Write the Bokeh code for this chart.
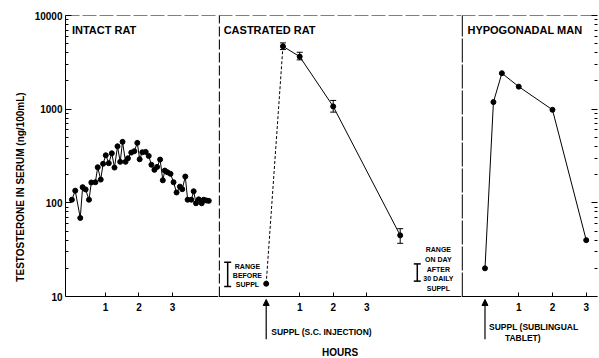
from bokeh.plotting import figure
from bokeh.models import (Range1d, FixedTicker, ColumnDataSource, Whisker, TeeHead,
                          Arrow, NormalHead, Label, Span, LogAxis)
from bokeh.layouts import row
from bokeh.embed import file_html
from bokeh.resources import INLINE

# ---------------- data ----------------
intact_hours = [0.00, 0.10, 0.25, 0.32, 0.41, 0.51, 0.58, 0.70, 0.77, 0.86,
                0.93, 1.01, 1.10, 1.19, 1.27, 1.36, 1.44, 1.51, 1.60, 1.67,
                1.77, 1.86, 1.95, 2.02, 2.10, 2.20, 2.29, 2.37, 2.46, 2.54,
                2.63, 2.71, 2.77, 2.85, 2.94, 3.03, 3.12, 3.22, 3.29, 3.38,
                3.45, 3.56, 3.63, 3.70, 3.78, 3.87, 3.93, 4.01, 4.08]
intact_values = [108, 135, 69, 147, 139, 108, 165, 166, 240, 177,
                 261, 322, 265, 338, 238, 402, 274, 448, 274, 299,
                 344, 356, 437, 292, 347, 350, 317, 255, 225, 242,
                 290, 174, 221, 212, 204, 166, 129, 149, 140, 191,
                 108, 108, 133, 99, 109, 99, 108, 106, 105]

castrated_hours = [0, 0.5, 1, 2, 4]
castrated_values = [13.7, 4690, 3640, 1070, 45]
castrated_err_hours = [0.5, 1, 2, 4]
castrated_lower = [4330, 3360, 930, 37]
castrated_upper = [5100, 4050, 1240, 53]

man_hours = [0, 0.25, 0.5, 1, 2, 3]
man_values = [20, 1190, 2420, 1740, 985, 40]

range_before = [12.8, 23.2]
range_after = [14.6, 22.3]

hour_ticks = [1, 2, 3]
y_ticks = [10, 100, 1000, 10000]
y_tick_labels = ["10", "100", "1000", "10000"]
panel_titles = ["INTACT RAT", "CASTRATED RAT", "HYPOGONADAL MAN"]

FONT = "Liberation Sans"
H = 358
Y_BOTTOM = 2.18          # frame extends below the x axis (drawn at y = 10)
yr = Range1d(Y_BOTTOM, 10000)
minor = [m * d for d in y_ticks[:-1] for m in range(2, 10)]


def style_yaxis(ax, labels=True):
    ax.ticker = FixedTicker(ticks=y_ticks, minor_ticks=minor)
    ax.bounds = (10, 10000)
    ax.major_tick_in = 6
    ax.major_tick_out = 0
    ax.minor_tick_in = 3
    ax.minor_tick_out = 0
    ax.major_tick_line_color = "black"
    ax.minor_tick_line_color = "black"
    if labels:
        ax.major_label_overrides = dict(zip(y_ticks, y_tick_labels))
        ax.major_label_text_font = FONT
        ax.major_label_text_font_style = "bold"
        ax.major_label_text_font_size = "10px"
        ax.major_label_text_color = "black"
        ax.major_label_standoff = 3
    else:
        ax.major_label_text_font_size = "1px"
        ax.major_label_text_color = None
        ax.major_label_standoff = 0


def make(width, xr, left=0, right=0, yloc=None):
    p = figure(width=width, height=H, x_range=Range1d(*xr), y_range=yr,
               y_axis_type="log", y_axis_location=yloc,
               output_backend="svg", toolbar_location=None,
               min_border_left=left, min_border_right=right,
               min_border_top=15, min_border_bottom=0)
    p.grid.visible = False
    p.outline_line_color = None
    xa = p.xaxis[0]
    xa.fixed_location = 10
    xa.ticker = FixedTicker(ticks=hour_ticks)
    xa.major_tick_in = 4
    xa.major_tick_out = 0
    xa.minor_tick_line_color = None
    xa.axis_line_color = "black"
    xa.major_label_text_font = FONT
    xa.major_label_text_font_style = "bold"
    xa.major_label_text_font_size = "10px"
    xa.major_label_text_color = "black"
    xa.major_label_standoff = 6
    p.add_layout(Span(location=10000, dimension="width", line_color="black",
                      line_width=1, line_dash="14 3"))
    return p


def divider(p, x, dash):
    p.segment(x0=[x], y0=[10], x1=[x], y1=[10000], line_color="black",
              line_width=1.2, line_dash=dash)


def text(p, x, y, t, size="7px", align="left"):
    p.add_layout(Label(x=x, y=y, text=t, text_font=FONT, text_font_style="bold",
                       text_font_size=size, text_align=align,
                       text_baseline="middle", text_color="black"))


def arrow(p):
    p.add_layout(Arrow(end=NormalHead(size=6, fill_color="black", line_color="black"),
                       x_start=0, y_start=3.5, x_end=0, y_end=9.3,
                       line_color="black", line_width=1.2))


# ---------------- panel 1: intact rat ----------------
p1 = make(218, (-0.19, 4.37), left=65, yloc="left")
style_yaxis(p1.yaxis[0])
# separate label-only axis so the title sits where the reference puts it
lab = LogAxis(bounds=(23.6, 10000), axis_line_color=None,
              major_tick_line_color=None, minor_tick_line_color=None,
              major_label_text_font_size="1px", major_label_text_color=None,
              major_label_standoff=0,
              axis_label="TESTOSTERONE IN SERUM (ng/100mL)",
              axis_label_text_font=FONT, axis_label_text_font_style="bold",
              axis_label_text_font_size="10px", axis_label_text_color="black",
              axis_label_standoff=0)
p1.add_layout(lab, "left")
p1.line(intact_hours, intact_values, line_color="black", line_width=1)
p1.scatter(intact_hours, intact_values, size=5, color="black")
text(p1, 0.0, 6980, panel_titles[0], size="11px")

# ---------------- panel 2: castrated rat ----------------
p2 = make(243, (-1.424, 5.83))
xa2 = p2.xaxis[0]
xa2.axis_label = "HOURS"
xa2.axis_label_text_font = FONT
xa2.axis_label_text_font_style = "bold"
xa2.axis_label_text_font_size = "10px"
xa2.axis_label_text_color = "black"
xa2.axis_label_standoff = 33
divider(p2, -1.40, "10 3")
p2.line(castrated_hours[:2], castrated_values[:2], line_color="black",
        line_width=1, line_dash="3 2")
p2.line(castrated_hours[1:], castrated_values[1:], line_color="black", line_width=1)
p2.scatter(castrated_hours, castrated_values, size=5, color="black")
err = ColumnDataSource(dict(base=castrated_err_hours, lower=castrated_lower,
                            upper=castrated_upper))
p2.add_layout(Whisker(source=err, base="base", lower="lower", upper="upper",
                      line_color="black", line_width=1,
                      upper_head=TeeHead(size=6, line_color="black"),
                      lower_head=TeeHead(size=6, line_color="black")))
for xb, rng in ((-1.15, range_before), (4.51, range_after)):
    src = ColumnDataSource(dict(base=[xb], lower=[rng[0]], upper=[rng[1]]))
    p2.add_layout(Whisker(source=src, base="base", lower="lower", upper="upper",
                          line_color="black", line_width=1.5,
                          upper_head=TeeHead(size=7, line_color="black", line_width=1.5),
                          lower_head=TeeHead(size=7, line_color="black", line_width=1.5)))
for yy, t in zip([21.0, 16.7, 13.3], ["RANGE", "BEFORE", "SUPPL"]):
    text(p2, -0.56, yy, t, align="center")
for yy, t in zip([31.5, 24.8, 19.5, 15.6, 12.2],
                 ["RANGE", "ON DAY", "AFTER", "30 DAILY", "SUPPL"]):
    text(p2, 5.14, yy, t, align="center")
text(p2, -1.27, 6980, panel_titles[1], size="11px")
arrow(p2)
text(p2, 0.15, 4.16, "SUPPL (S.C. INJECTION)", size="8.5px")

# ---------------- panel 3: hypogonadal man ----------------
p3 = make(138, (-0.696, 3.334), right=2, yloc="right")
yb = p3.yaxis[0]
style_yaxis(yb, labels=False)
yb.axis_line_color = None
divider(p3, -0.675, "24 2")
p3.line(man_hours, man_values, line_color="black", line_width=1)
p3.scatter(man_hours, man_values, size=5, color="black")
text(p3, -0.52, 6980, panel_titles[2], size="11px")
arrow(p3)
text(p3, 0.12, 4.78, "SUPPL (SUBLINGUAL", size="8.5px")
text(p3, 1.12, 3.62, "TABLET)", size="8.5px", align="center")

layout = row(p1, p2, p3, spacing=0)
open("out.html", "w").write(file_html(layout, INLINE))
